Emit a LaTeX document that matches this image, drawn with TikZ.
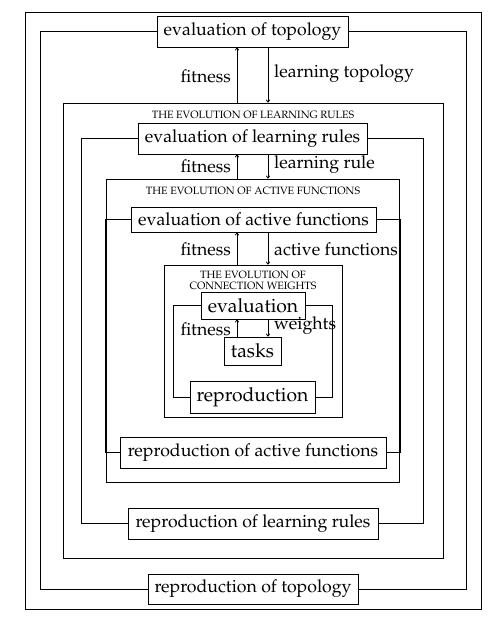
\documentclass[tikz,border=0pt]{standalone}
\usepackage[T1]{fontenc}
\usepackage{mathpazo}
\usetikzlibrary{arrows.meta}
\tikzset{
  ln/.style={line width=0.8pt},
  box/.style={draw, line width=0.8pt, inner sep=0pt, align=center, font=\fontsize{17.7}{20}\selectfont},
  ibox/.style={box, font=\fontsize{19.3}{22}\selectfont},
  cont/.style={draw, line width=0.8pt, inner sep=0pt},
  ttl/.style={inner sep=0pt, align=center, font=\fontsize{10.6}{11}\selectfont},
  lbl/.style={inner sep=0pt, font=\fontsize{17.7}{20}\selectfont},
  arr/.style={line width=0.8pt, -{To[length=3pt,width=4pt]}},
}
\begin{document}
\begin{tikzpicture}[x=1pt,y=-1pt]
\useasboundingbox (0,0) rectangle (502,622);
% containers
\node[cont, minimum width=456pt, minimum height=597pt] (outer) at (253,310.5) {};
\node[cont, minimum width=380pt, minimum height=455pt] (lrbox) at (253,330.5) {};
\node[cont, minimum width=293pt, minimum height=303pt] (afbox) at (252.5,330.5) {};
\node[cont, minimum width=178pt, minimum height=152pt] (cwbox) at (253,341) {};
% titles
\node[ttl] (tlr) at (253,115) {THE EVOLUTION OF LEARNING RULES};
\node[ttl] (taf) at (253,191) {THE EVOLUTION OF ACTIVE FUNCTIONS};
\node[ttl] (tcw) at (253,280.5) {THE EVOLUTION OF\\CONNECTION WEIGHTS};
% boxes
\node[box, minimum width=191pt, minimum height=31pt] (evtop) at (252.5,31.5) {evaluation of topology};
\node[box, minimum width=210pt, minimum height=30pt] (reptop) at (253,589) {reproduction of topology};
\node[box, minimum width=229pt, minimum height=31pt] (evlr) at (252.5,138.5) {evaluation of learning rules};
\node[box, minimum width=250pt, minimum height=31pt] (replr) at (253,523.5) {reproduction of learning rules};
\node[box, minimum width=245pt, minimum height=25pt] (evaf) at (253.5,219.5) {evaluation of active functions};
\node[box, minimum width=266pt, minimum height=31pt] (repaf) at (253,452.5) {reproduction of active functions};
\node[ibox, minimum width=104pt, minimum height=27pt] (ev) at (253,305.5) {evaluation};
\node[ibox, minimum width=125pt, minimum height=32pt] (rep) at (252.5,397) {reproduction};
\node[ibox, minimum width=57pt, minimum height=28pt] (tasks) at (252.5,351) {tasks};
% loops
\draw[ln] (evtop.west) -- ++(-116,0) |- (reptop.west);
\draw[ln] (evtop.east) -- ++(118,0) |- (reptop.east);
\draw[ln] (evlr.west) -- ++(-56,0) |- (replr.west);
\draw[ln] (evlr.east) -- ++(56,0) |- (replr.east);
\draw[ln] (evaf.west) -- ++(-25,0) |- (repaf.west);
\draw[ln] (evaf.east) -- ++(24,0) |- (repaf.east);
\draw[ln] (ev.west) -- ++(-27,0) |- (rep.west);
\draw[ln] (ev.east) -- ++(27,0) |- (rep.east);
% arrow columns
\coordinate (fx) at (237,0);
\coordinate (dx) at (268,0);
\draw[arr] (fx |- lrbox.north) -- (fx |- evtop.south);
\draw[arr] (dx |- evtop.south) -- (dx |- lrbox.north);
\draw[arr] (fx |- afbox.north) -- (fx |- evlr.south);
\draw[arr] (dx |- evlr.south) -- (dx |- afbox.north);
\draw[arr] (fx |- cwbox.north) -- (fx |- evaf.south);
\draw[arr] (dx |- evaf.south) -- (dx |- cwbox.north);
\draw[arr] (fx |- tasks.north) -- (fx |- ev.south);
\draw[arr] (dx |- ev.south) -- (dx |- tasks.north);
% labels
\node[lbl, anchor=east] (l1) at (231,76) {fitness};
\node[lbl, anchor=west] (l2) at (274,74) {learning topology};
\node[lbl, anchor=east] (l3) at (231,166) {fitness};
\node[lbl, anchor=west] (l4) at (274,165) {learning rule};
\node[lbl, anchor=east] (l5) at (231,249) {fitness};
\node[lbl, anchor=west] (l6) at (274,249) {active functions};
\node[lbl, anchor=east] (l7) at (231,329) {fitness};
\node[lbl, anchor=west] (l8) at (274,326) {weights};
\end{tikzpicture}
\end{document}
